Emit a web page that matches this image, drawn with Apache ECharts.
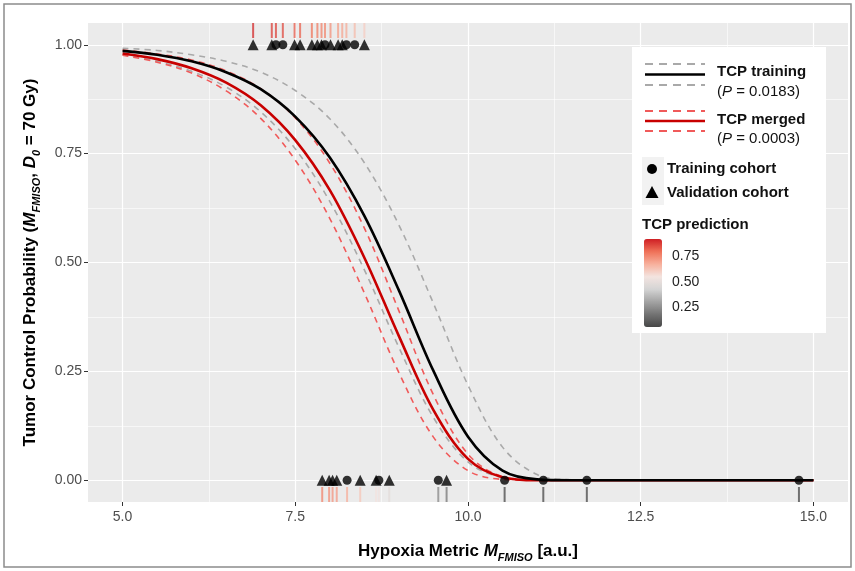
<!DOCTYPE html>
<html>
<head>
<meta charset="utf-8">
<title>TCP vs hypoxia metric</title>
<script src="https://cdn.jsdelivr.net/npm/echarts/dist/echarts.min.js"></script>
<style>
  html, body { margin: 0; padding: 0; background: #fff; }
  #chart { width: 855px; height: 571px; }
</style>
</head>
<body>
<div id="chart"></div>
<script>
// x grid of the fitted curves (hypoxia metric M_FMISO)
var xVals = [5, 5.5, 6, 6.5, 7, 7.5, 8, 8.5, 9, 9.5, 10, 10.5, 11, 11.5, 12, 13, 14, 15];
// TCP training model + its bounds (grey dashed)
var tcpTraining   = [0.986, 0.977, 0.962, 0.937, 0.898, 0.835, 0.741, 0.607, 0.436, 0.251, 0.100, 0.022, 0.002, 0, 0, 0, 0, 0];
var trainingLower = [0.977, 0.962, 0.939, 0.903, 0.846, 0.761, 0.640, 0.483, 0.305, 0.144, 0.042, 0.006, 0, 0, 0, 0, 0, 0];
var trainingUpper = [0.992, 0.987, 0.977, 0.962, 0.937, 0.895, 0.830, 0.729, 0.586, 0.406, 0.218, 0.076, 0.013, 0.001, 0, 0, 0, 0];
// TCP merged model + its bounds (red dashed)
var tcpMerged     = [0.980, 0.967, 0.946, 0.913, 0.861, 0.781, 0.666, 0.511, 0.331, 0.161, 0.049, 0.007, 0, 0, 0, 0, 0, 0];
var mergedLower   = [0.976, 0.960, 0.935, 0.894, 0.831, 0.735, 0.601, 0.430, 0.247, 0.099, 0.022, 0.002, 0, 0, 0, 0, 0, 0];
var mergedUpper   = [0.988, 0.979, 0.965, 0.940, 0.899, 0.832, 0.728, 0.579, 0.389, 0.196, 0.060, 0.008, 0, 0, 0, 0, 0, 0];

// patients with local control (top, TCP = 1): x, cohort (T training / V validation), predicted TCP
var topX      = [6.89, 7.16, 7.22, 7.32, 7.49, 7.57, 7.74, 7.82, 7.88, 7.93, 8.01, 8.12, 8.18, 8.24, 8.36, 8.50];
var topCohort = ['V', 'V', 'T', 'T', 'V', 'V', 'V', 'V', 'V', 'T', 'V', 'V', 'V', 'T', 'T', 'V'];
var topTcp    = [0.908, 0.880, 0.873, 0.861, 0.837, 0.825, 0.795, 0.779, 0.767, 0.757, 0.738, 0.713, 0.698, 0.684, 0.649, 0.607];
// patients with failure (bottom, TCP = 0)
var bottomX      = [7.89, 7.99, 8.04, 8.10, 8.25, 8.44, 8.67, 8.71, 8.86, 9.57, 9.69, 10.53, 11.09, 11.72, 14.79];
var bottomCohort = ['V', 'V', 'V', 'V', 'T', 'V', 'V', 'T', 'V', 'T', 'V', 'T', 'T', 'T', 'T'];
var bottomTcp    = [0.765, 0.743, 0.732, 0.718, 0.680, 0.625, 0.552, 0.538, 0.486, 0.226, 0.186, 0.019, 0.001, 0, 0];

// axis ticks
var xMajor = [5, 7.5, 10, 12.5, 15];
var xMinor = [6.25, 8.75, 11.25, 13.75];
var yMajor = [0, 0.25, 0.5, 0.75, 1];
var yMinor = [0.125, 0.375, 0.625, 0.875];
var barTicks = [0.75, 0.5, 0.25];

var font = '"Liberation Sans", Arial, sans-serif';
var grey = '#a9a9a9', redDash = '#f05a5a', red = '#c80000';
var gradient = ['#474747', '#737373', '#a3a3a3', '#d4d4d4', '#f3e4e0', '#f7b09c', '#ef7158', '#cf1f24'];

function curve(ys) {
  return xVals.map(function (x, i) { return [x, ys[i]]; });
}
function points(xs, cohort, which, y) {
  var out = [];
  xs.forEach(function (x, i) { if (cohort[i] === which) out.push([x, y]); });
  return out;
}
function rug(xs, tcp, y) {
  return xs.map(function (x, i) { return [x, y, tcp[i]]; });
}

function lineSeries(name, ys, color, width, dashed) {
  return {
    name: name, type: 'line', data: curve(ys), smooth: 0.35,
    showSymbol: false, silent: true,
    lineStyle: { color: color, width: width, type: dashed ? [6, 5] : 'solid' }
  };
}

// legend drawn by hand (ggplot style box)
var lx = 632, ly = 47;
var graphics = [
  { type: 'rect', z: 3, shape: { x: 4, y: 4, width: 847, height: 563 }, style: { fill: null, stroke: '#8c8c8c', lineWidth: 1.5 } },
  { type: 'rect', z: 3, shape: { x: lx, y: ly, width: 194, height: 286 }, style: { fill: '#fff' } },
  { type: 'rect', z: 4, shape: { x: 642, y: 157, width: 22, height: 48 }, style: { fill: '#f2f2f2' } }
];
function keyLine(y, color, width, dashed) {
  graphics.push({ type: 'line', z: 5, shape: { x1: 645, y1: y, x2: 705, y2: y },
    style: { stroke: color, lineWidth: width, lineDash: dashed ? [8, 6] : null } });
}
function txt(x, y, text, extra) {
  var st = { x: x, y: y, text: text, fontFamily: font, fontSize: 15, fill: '#111', verticalAlign: 'middle' };
  for (var k in extra) st[k] = extra[k];
  graphics.push({ type: 'text', z: 11, style: st });
}
keyLine(64, grey, 2, true); keyLine(74.5, '#000', 2.5, false); keyLine(85, grey, 2, true);
keyLine(111, redDash, 2, true); keyLine(121, red, 2.5, false); keyLine(131, redDash, 2, true);
txt(717, 72, 'TCP training', { fontWeight: 'bold' });
txt(717, 92, '{n|(}{i|P}{n| = 0.0183)}', { rich: { n: { fontFamily: font, fontSize: 15 }, i: { fontFamily: font, fontSize: 15, fontStyle: 'italic' } } });
txt(717, 120, 'TCP merged', { fontWeight: 'bold' });
txt(717, 139, '{n|(}{i|P}{n| = 0.0003)}', { rich: { n: { fontFamily: font, fontSize: 15 }, i: { fontFamily: font, fontSize: 15, fontStyle: 'italic' } } });
graphics.push({ type: 'circle', z: 6, shape: { cx: 652, cy: 169, r: 5 }, style: { fill: '#000' } });
graphics.push({ type: 'polygon', z: 6, shape: { points: [[652, 186], [658.5, 198], [645.5, 198]] }, style: { fill: '#000' } });
txt(667, 169, 'Training cohort', { fontWeight: 'bold' });
txt(667, 193, 'Validation cohort', { fontWeight: 'bold' });
txt(642, 225, 'TCP prediction', { fontWeight: 'bold' });

// colour bar labels placed along the visualMap bar
var barMin = 0.05, barMax = 0.925, barTop = 239, barH = 88;
barTicks.forEach(function (v) {
  txt(672, barTop + (barMax - v) / (barMax - barMin) * barH, v.toFixed(2), { fontSize: 14, fill: '#222' });
});

var subStyle = { fontFamily: font, fontSize: 11, fontWeight: 'bold', fontStyle: 'italic', lineHeight: 13, verticalAlign: 'bottom', color: '#000' };

var chart = echarts.init(document.getElementById('chart'));
chart.setOption({
  animation: false,
  backgroundColor: '#fff',
  grid: { left: 88, right: 7, top: 23, bottom: 69, show: true, backgroundColor: '#ebebeb', borderWidth: 0 },
  xAxis: [{
    type: 'value', min: 4.5, max: 15.5,
    name: '{a|Hypoxia Metric }{i|M}{s|FMISO}{a| [a.u.]}',
    nameLocation: 'middle', nameGap: 37,
    nameTextStyle: { rich: {
      a: { fontFamily: font, fontSize: 17, fontWeight: 'bold', lineHeight: 24, color: '#000' },
      i: { fontFamily: font, fontSize: 17, fontWeight: 'bold', fontStyle: 'italic', lineHeight: 24, color: '#000' },
      s: subStyle } },
    axisLine: { show: false, onZero: false },
    axisTick: { customValues: xMajor, length: 4, lineStyle: { color: '#333' } },
    axisLabel: { customValues: xMajor, formatter: function (v) { return v.toFixed(1); }, fontFamily: font, fontSize: 14, color: '#4d4d4d', margin: 8 },
    splitLine: { show: true, lineStyle: { color: '#fff', width: 1.2 } }
  }, {
    type: 'value', min: 4.5, max: 15.5, position: 'bottom',
    axisLine: { show: false, onZero: false }, axisLabel: { show: false },
    axisTick: { show: false, customValues: xMinor },
    splitLine: { show: true, lineStyle: { color: '#fff', width: 0.6 } }
  }],
  yAxis: [{
    type: 'value', min: -0.05, max: 1.05,
    name: '{a|Tumor Control Probability (}{i|M}{s|FMISO}{a|, }{i|D}{s|0}{a| = 70 Gy)}',
    nameLocation: 'middle', nameGap: 46,
    nameTextStyle: { rich: {
      a: { fontFamily: font, fontSize: 17, fontWeight: 'bold', lineHeight: 24, color: '#000' },
      i: { fontFamily: font, fontSize: 17, fontWeight: 'bold', fontStyle: 'italic', lineHeight: 24, color: '#000' },
      s: subStyle } },
    axisLine: { show: false, onZero: false },
    axisTick: { customValues: yMajor, length: 4, lineStyle: { color: '#333' } },
    axisLabel: { customValues: yMajor, formatter: function (v) { return v.toFixed(2); }, fontFamily: font, fontSize: 14, color: '#4d4d4d', margin: 6 },
    splitLine: { show: true, lineStyle: { color: '#fff', width: 1.2 } }
  }, {
    type: 'value', min: -0.05, max: 1.05, position: 'left',
    axisLine: { show: false, onZero: false }, axisLabel: { show: false },
    axisTick: { show: false, customValues: yMinor },
    splitLine: { show: true, lineStyle: { color: '#fff', width: 0.6 } }
  }],
  visualMap: {
    type: 'continuous', min: barMin, max: barMax, dimension: 2, seriesIndex: [6, 7],
    left: 644, top: barTop, itemWidth: 18, itemHeight: barH, padding: 0,
    calculable: false, z: 10,
    inRange: { color: gradient }
  },
  series: [
    lineSeries('training lower', trainingLower, grey, 1.6, true),
    lineSeries('training upper', trainingUpper, grey, 1.6, true),
    lineSeries('merged lower', mergedLower, redDash, 1.6, true),
    lineSeries('merged upper', mergedUpper, redDash, 1.6, true),
    lineSeries('TCP merged', tcpMerged, red, 2.6, false),
    lineSeries('TCP training', tcpTraining, '#000', 2.6, false),
    { name: 'rug top', type: 'scatter', silent: true, symbol: 'rect', symbolSize: [2, 15], symbolOffset: [0, 7.5],
      data: rug(topX, topTcp, 1.05), itemStyle: { opacity: 0.75 } },
    { name: 'rug bottom', type: 'scatter', silent: true, symbol: 'rect', symbolSize: [2, 15], symbolOffset: [0, -7.5],
      data: rug(bottomX, bottomTcp, -0.05), itemStyle: { opacity: 0.75 } },
    { name: 'Training cohort', type: 'scatter', silent: true, symbol: 'circle', symbolSize: 9, z: 5,
      data: points(topX, topCohort, 'T', 1).concat(points(bottomX, bottomCohort, 'T', 0)), itemStyle: { color: '#000' } },
    { name: 'Validation cohort', type: 'scatter', silent: true, symbol: 'triangle', symbolSize: 11, z: 5,
      data: points(topX, topCohort, 'V', 1).concat(points(bottomX, bottomCohort, 'V', 0)), itemStyle: { color: '#000' } }
  ],
  graphic: graphics
});
</script>
</body>
</html>
